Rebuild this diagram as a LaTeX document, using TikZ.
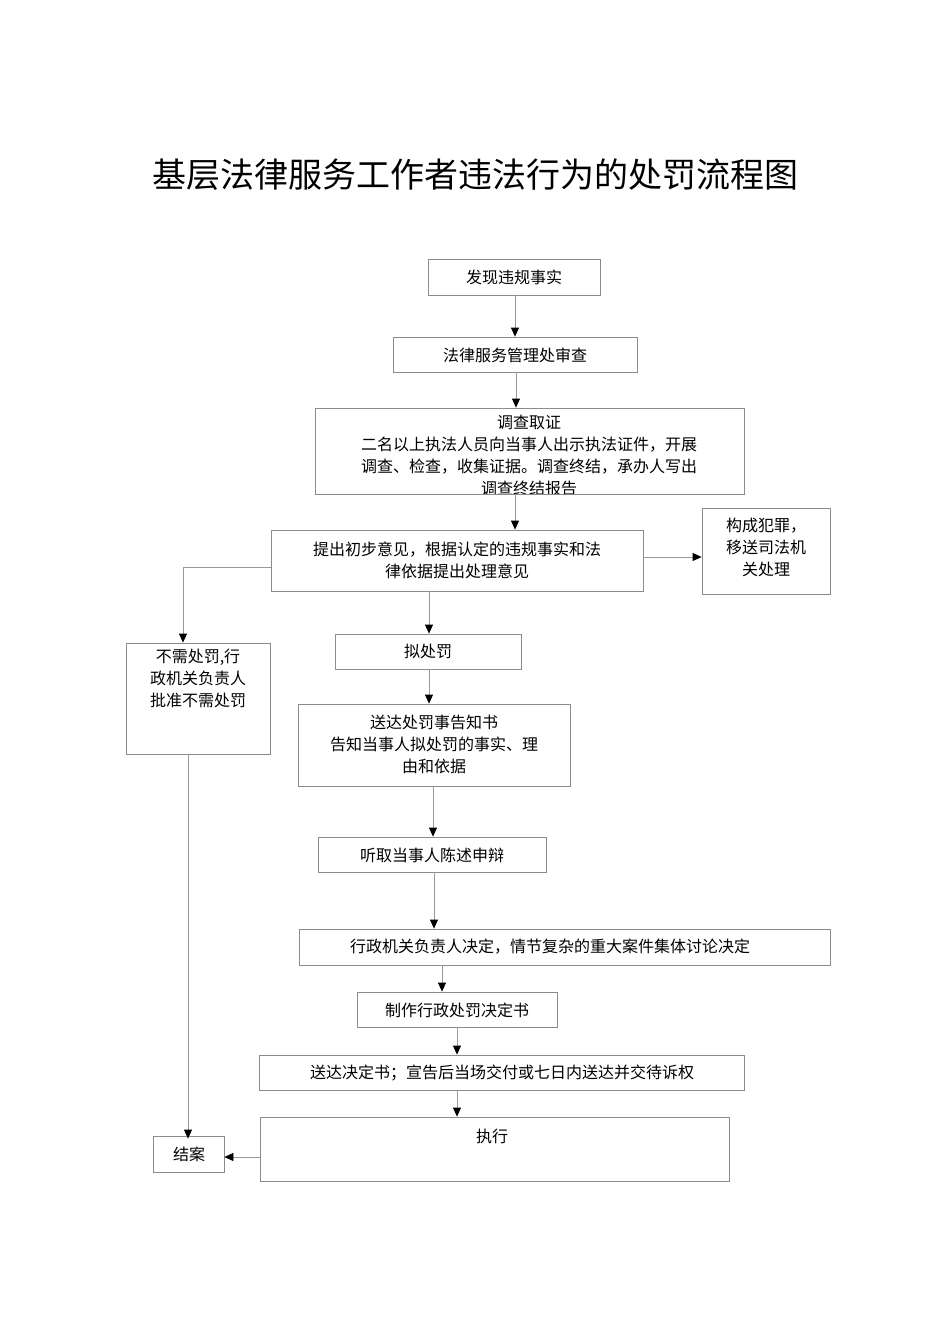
\documentclass[tikz,border=0pt]{standalone}
\usepackage{fontspec}
\setmainfont{Noto Sans CJK SC}
\usetikzlibrary{arrows.meta}
\tikzset{
 box/.style={draw=black!45,line width=0.8pt,inner sep=0pt},
 txt/.style={font=\fontsize{16}{22}\selectfont,align=center,inner sep=0pt},
 arr/.style={draw=black!40,line width=0.8pt,-{Triangle[black,length=9pt,width=8pt]}}
}
\newcommand{\bx}[5]{\node[box,minimum width={#3-#2},minimum height={#5-#4}] (#1) at ({(#2+#3)/2},{(#4+#5)/2}) {};}
\begin{document}
\begin{tikzpicture}[x=1pt,y=-1pt]
\useasboundingbox (0,0) rectangle (950,1344);
\node[font=\fontsize{34}{40}\selectfont] (title) at (475,175) {基层法律服务工作者违法行为的处罚流程图};
\bx{b1}{428}{600}{259}{295}
\bx{b2}{393}{637}{337}{372}
\bx{b3}{315}{744}{408}{494}
\bx{b4}{271}{643}{530}{591}
\bx{b5}{702}{830}{508}{594}
\bx{b6}{126}{270}{643}{754}
\bx{b7}{335}{521}{634}{669}
\bx{b8}{298}{570}{704}{786}
\bx{b9}{318}{546}{837}{872}
\bx{b10}{299}{830}{929}{965}
\bx{b11}{357}{557}{992}{1027}
\bx{b12}{259}{744}{1055}{1090}
\bx{b13}{260}{729}{1117}{1181}
\bx{b14}{153}{224}{1136}{1172}
\node[txt] (t1) at (514,277) {发现违规事实};
\node[txt] (t2) at (515,355) {法律服务管理处审查};
\begin{scope}
\clip (316,409) rectangle (743,493);
\node[txt,anchor=north] (t3) at (529,415) {调查取证\\二名以上执法人员向当事人出示执法证件，开展\\调查、检查，收集证据。调查终结，承办人写出\\调查终结报告};
\end{scope}
\node[txt] (t4) at (457,560) {提出初步意见，根据认定的违规事实和法\\律依据提出处理意见};
\node[txt] (t5) at (766,547) {构成犯罪，\\移送司法机\\关处理};
\node[txt,anchor=north] (t6) at (198,649) {不需处罚,行\\政机关负责人\\批准不需处罚};
\node[txt] (t7) at (428,651) {拟处罚};
\node[txt] (t8) at (434,744) {送达处罚事告知书\\告知当事人拟处罚的事实、理\\由和依据};
\node[txt] (t9) at (432,855) {听取当事人陈述申辩};
\node[txt] (t10) at (550,947) {行政机关负责人决定，情节复杂的重大案件集体讨论决定};
\node[txt] (t11) at (457,1010) {制作行政处罚决定书};
\node[txt] (t12) at (502,1073) {送达决定书；宣告后当场交付或七日内送达并交待诉权};
\node[txt] (t13) at (492,1136) {执行};
\node[txt] (t14) at (189,1154) {结案};
\draw[arr] (b1.south -| 515,0) -- (b2.north -| 515,0);
\draw[arr] (b2.south -| 516,0) -- (b3.north -| 516,0);
\draw[arr] (b3.south -| 515,0) -- (b4.north -| 515,0);
\draw[arr] (b4.east |- 0,557) -- (b5.west |- 0,557);
\draw[arr] (b4.west |- 0,567) -| (b6.north -| 183,0);
\draw[arr] (b4.south -| 429,0) -- (b7.north -| 429,0);
\draw[arr] (b7.south -| 429,0) -- (b8.north -| 429,0);
\draw[arr] (b8.south -| 433,0) -- (b9.north -| 433,0);
\draw[arr] (b9.south -| 434,0) -- (b10.north -| 434,0);
\draw[arr] (b10.south -| 442,0) -- (b11.north -| 442,0);
\draw[arr] (b11.south -| 457,0) -- (b12.north -| 457,0);
\draw[arr] (b12.south -| 457,0) -- (b13.north -| 457,0);
\draw[arr] (b6.south -| 188,0) -- ([yshift=-3pt]b14.north -| 188,0);
\draw[arr] (b13.west |- 0,1157) -- (b14.east |- 0,1157);
\end{tikzpicture}
\end{document}
